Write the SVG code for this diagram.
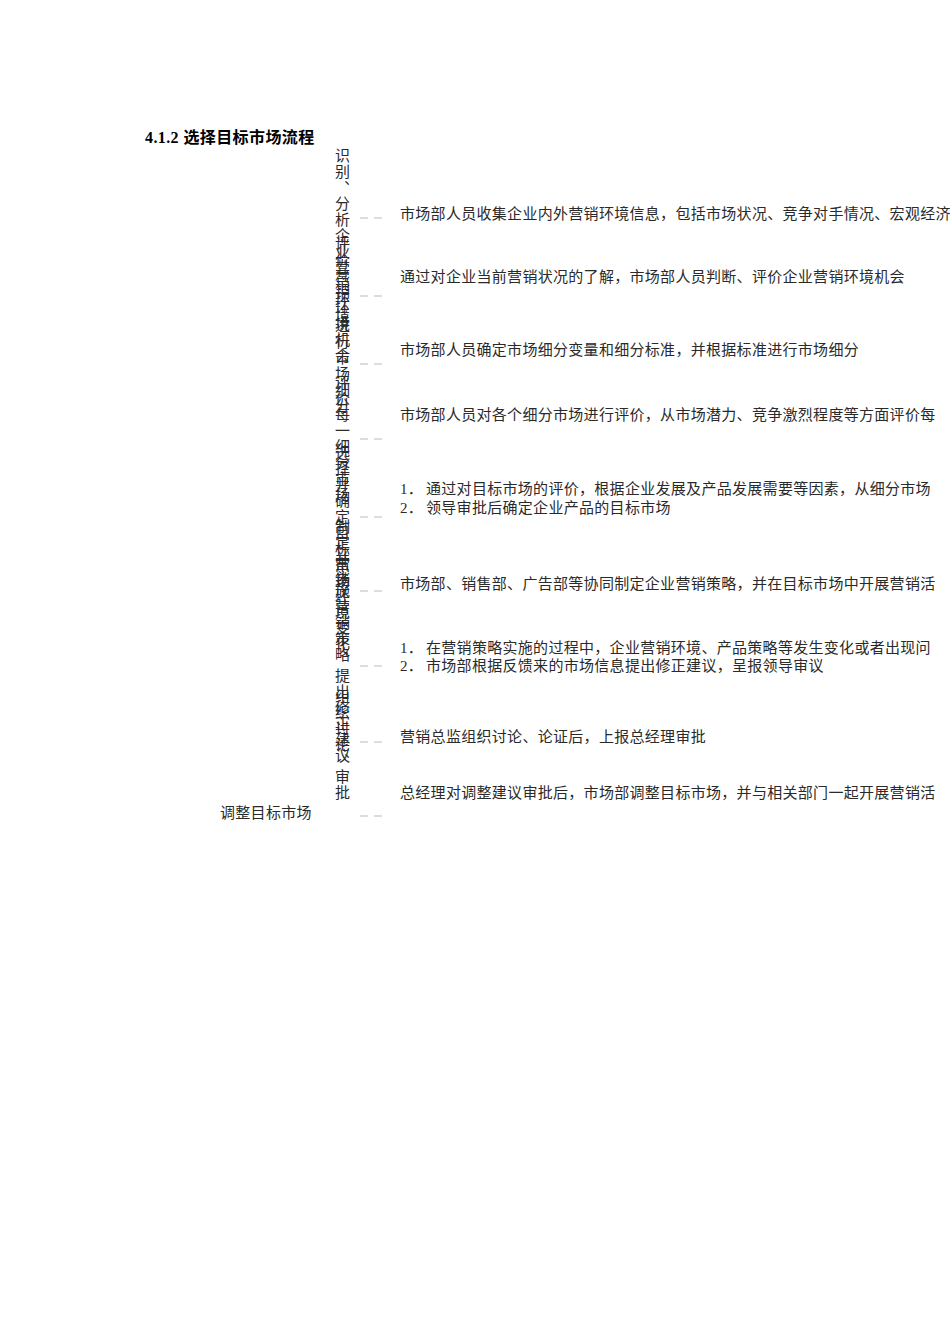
<svg xmlns="http://www.w3.org/2000/svg" width="950" height="1344" viewBox="0 0 950 1344">
<style>
.t{font-family:"Liberation Serif","Noto Sans CJK SC",serif;font-size:15px;letter-spacing:0.3px;fill:#2a2a2a}
.v{font-family:"Liberation Serif","Noto Sans CJK SC",serif;font-size:15px;fill:#2a2a2a;writing-mode:tb;text-anchor:middle;letter-spacing:1px}
.h{font-family:"Liberation Serif","Noto Sans CJK SC",sans-serif;font-size:16px;font-weight:bold;fill:#000;letter-spacing:0.4px}
.d{stroke:#bbb;stroke-width:1}
</style>
<rect width="950" height="1344" fill="#fff"/>
<text class="h" x="145" y="143">4.1.2  选择目标市场流程</text>
<g id="connectors">
<path class="d" d="M360 218h8M374 218h8M360 296h8M374 296h8M360 364h8M374 364h8M360 439h8M374 439h8M360 517h8M374 517h8M360 591h8M374 591h8M360 666h8M374 666h8M360 742h8M374 742h8M360 816h8M374 816h8"/>
</g>
<g id="n1"><text class="v" x="341" y="236">识别、分析企业营销环境</text>
<text class="t" x="400" y="219">市场部人员收集企业内外营销环境信息，包括市场状况、竞争对手情况、宏观经济</text></g>
<g id="n2"><text class="v" x="341" y="300">评价营销环境机会</text>
<text class="t" x="400" y="282">通过对企业当前营销状况的了解，市场部人员判断、评价企业营销环境机会</text></g>
<g id="n3"><text class="v" x="341" y="366">进行市场细分</text>
<text class="t" x="400" y="355">市场部人员确定市场细分变量和细分标准，并根据标准进行市场细分</text></g>
<g id="n4"><text class="v" x="341" y="439">评价每一细分市场</text>
<text class="t" x="400" y="420">市场部人员对各个细分市场进行评价，从市场潜力、竞争激烈程度等方面评价每</text></g>
<g id="n5"><text class="v" x="341" y="517">选择并确定目标市场</text>
<text class="t" x="400" y="494">1．</text><text class="t" x="426" y="494">通过对目标市场的评价，根据企业发展及产品发展需要等因素，从细分市场</text>
<text class="t" x="400" y="513">2．</text><text class="t" x="426" y="513">领导审批后确定企业产品的目标市场</text></g>
<g id="n6"><text class="v" x="341" y="591">制定并实施营销策略</text>
<text class="t" x="400" y="589">市场部、销售部、广告部等协同制定企业营销策略，并在目标市场中开展营销活</text></g>
<g id="n7"><text class="v" x="341" y="660">营销环境变化，提出修正建议</text>
<text class="t" x="400" y="653">1．</text><text class="t" x="426" y="653">在营销策略实施的过程中，企业营销环境、产品策略等发生变化或者出现问</text>
<text class="t" x="400" y="671">2．</text><text class="t" x="426" y="671">市场部根据反馈来的市场信息提出修正建议，呈报领导审议</text></g>
<g id="n8"><text class="v" x="341" y="745">组织讨论、审批</text>
<text class="t" x="400" y="742">营销总监组织讨论、论证后，上报总经理审批</text></g>
<g id="n9"><text class="t" x="220" y="818">调整目标市场</text>
<text class="t" x="400" y="798">总经理对调整建议审批后，市场部调整目标市场，并与相关部门一起开展营销活</text></g>
</svg>
